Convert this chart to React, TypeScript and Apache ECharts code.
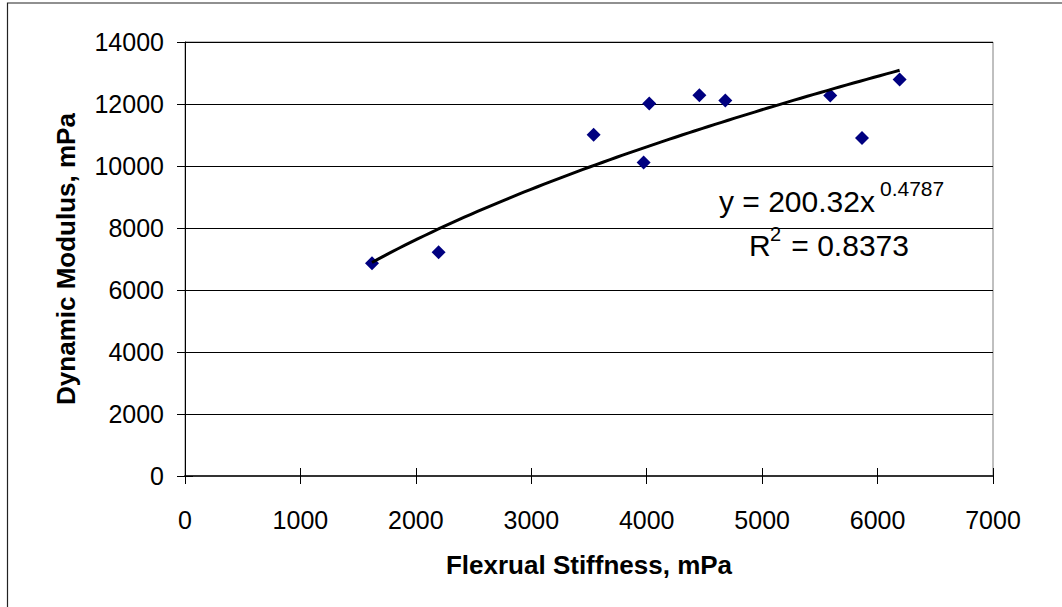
import { useEffect, useRef } from "react";
import * as echarts from "echarts";

// Data
const flexuralStiffness = [1620, 2197, 3540, 3973, 4022, 4456, 4681, 5590, 5865, 6191];
const dynamicModulus = [6865, 7220, 11012, 10116, 12013, 12281, 12110, 12272, 10905, 12789];

// Axis settings
const xMin = 0;
const xMax = 7000;
const xStep = 1000;
const yMin = 0;
const yMax = 14000;
const yStep = 2000;

// Power trendline shown in the chart: y = 200.32 x^0.4787
const fitCoefficient = 200.32;
const fitExponent = 0.4787;
const rSquared = 0.8373;
const trendSamples = 80;

const xTitle = "Flexrual Stiffness, mPa";
const yTitle = "Dynamic Modulus, mPa";

const FONT = '"Liberation Sans", Arial, Helvetica, sans-serif';

export default function App() {
  const ref = useRef<HTMLDivElement>(null);

  useEffect(() => {
    if (!ref.current) return;
    const chart = echarts.init(ref.current, null, { renderer: "svg" });

    const points = flexuralStiffness.map((x, i) => [x, dynamicModulus[i]]);
    const lo = Math.min(...flexuralStiffness);
    const hi = Math.max(...flexuralStiffness);
    const trend: number[][] = [];
    for (let i = 0; i <= trendSamples; i++) {
      const x = lo + ((hi - lo) * i) / trendSamples;
      trend.push([x, fitCoefficient * Math.pow(x, fitExponent)]);
    }

    const tickLabel = {
      fontSize: 25,
      color: "#000",
      fontFamily: FONT,
      formatter: (v: number) => String(v),
    };

    chart.setOption({
      animation: false,
      backgroundColor: "#fff",
      grid: {
        left: 185,
        top: 42,
        right: 69,
        bottom: 131,
        show: true,
        borderColor: "#808080",
        borderWidth: 1,
        backgroundColor: "transparent",
      },
      xAxis: [
        {
          type: "value",
          min: xMin,
          max: xMax,
          interval: xStep,
          position: "bottom",
          axisLine: { show: true, onZero: false, lineStyle: { color: "#333", width: 2 } },
          axisTick: { show: true, length: 8, lineStyle: { color: "#000" } },
          axisLabel: { ...tickLabel, margin: 31 },
          splitLine: { show: false },
          name: xTitle,
          nameLocation: "middle",
          nameGap: 76,
          nameMoveOverlap: false,
          nameTextStyle: { fontSize: 26, fontWeight: "bold", color: "#000", fontFamily: FONT },
        },
        {
          type: "value",
          min: xMin,
          max: xMax,
          interval: xStep,
          position: "bottom",
          axisLine: { show: false, onZero: false },
          axisTick: { show: true, inside: true, length: 8, lineStyle: { color: "#000" } },
          axisLabel: { show: false },
          splitLine: { show: false },
        },
      ],
      yAxis: [
        {
          type: "value",
          min: yMin,
          max: yMax,
          interval: yStep,
          position: "left",
          axisLine: { show: true, onZero: false, lineStyle: { color: "#000", width: 1 } },
          axisTick: { show: true, length: 8, lineStyle: { color: "#000" } },
          axisLabel: { ...tickLabel, margin: 21 },
          splitLine: { show: true, lineStyle: { color: "#000", width: 1 } },
          name: yTitle,
          nameLocation: "middle",
          nameGap: 106,
          nameTextStyle: { fontSize: 26, fontWeight: "bold", color: "#000", fontFamily: FONT },
        },
        {
          type: "value",
          min: yMin,
          max: yMax,
          interval: yStep,
          position: "left",
          axisLine: { show: false, onZero: false },
          axisTick: { show: true, inside: true, length: 8, lineStyle: { color: "#000" } },
          axisLabel: { show: false },
          splitLine: { show: false },
        },
      ],
      series: [
        {
          type: "scatter",
          data: points,
          symbol: "diamond",
          symbolSize: 14,
          itemStyle: { color: "#000080", opacity: 1 },
          emphasis: { disabled: true },
          z: 3,
        },
        {
          type: "line",
          data: trend,
          showSymbol: false,
          symbol: "none",
          lineStyle: { color: "#000", width: 3 },
          emphasis: { disabled: true },
          z: 4,
        },
      ],
      graphic: [
        {
          type: "rect",
          shape: { x: 7.5, y: 3, width: 1200, height: 800 },
          style: { fill: "none", stroke: "#222", lineWidth: 1.2 },
          silent: true,
          z: 0,
        },
        {
          type: "text",
          x: 719,
          y: 201,
          style: {
            text: "y = " + fitCoefficient.toFixed(2) + "x",
            fontSize: 30,
            fontFamily: FONT,
            fill: "#000",
            verticalAlign: "middle",
            align: "left",
          },
          z: 10,
        },
        {
          type: "text",
          x: 880,
          y: 188,
          style: {
            text: String(fitExponent),
            fontSize: 21,
            fontFamily: FONT,
            fill: "#000",
            verticalAlign: "middle",
            align: "left",
          },
          z: 10,
        },
        {
          type: "text",
          x: 749,
          y: 245,
          style: {
            text: "R",
            fontSize: 30,
            fontFamily: FONT,
            fill: "#000",
            verticalAlign: "middle",
            align: "left",
          },
          z: 10,
        },
        {
          type: "text",
          x: 770,
          y: 234,
          style: {
            text: "2",
            fontSize: 20,
            fontFamily: FONT,
            fill: "#000",
            verticalAlign: "middle",
            align: "left",
          },
          z: 10,
        },
        {
          type: "text",
          x: 783,
          y: 245,
          style: {
            text: " = " + rSquared.toFixed(4),
            fontSize: 30,
            fontFamily: FONT,
            fill: "#000",
            verticalAlign: "middle",
            align: "left",
          },
          z: 10,
        },
      ],
    });

    return () => chart.dispose();
  }, []);

  return (
    <div
      ref={ref}
      style={{ position: "fixed", left: 0, top: 0, width: 1062, height: 607, background: "#fff" }}
    />
  );
}
